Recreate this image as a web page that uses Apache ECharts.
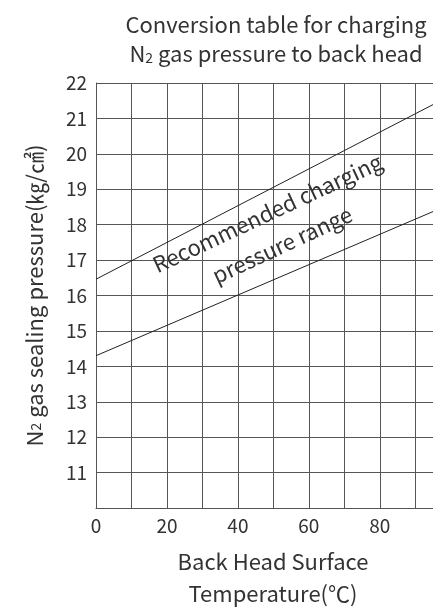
<!DOCTYPE html>
<html><head><meta charset="utf-8">
<script src="https://cdn.jsdelivr.net/npm/echarts@6/dist/echarts.min.js"></script>
<style>html,body{margin:0;padding:0;background:#fff}#c{width:433px;height:608px}</style>
</head><body><div id="c"></div>
<script>
var upperX = [0, 95];
var upperY = [16.46, 21.39];
var lowerX = [0, 95];
var lowerY = [14.3, 18.37];
var xTicks = [0, 20, 40, 60, 80];
var yTicks = [11,12,13,14,15,16,17,18,19,20,21,22];
var FONT = '"Noto Sans CJK KR","Noto Sans",sans-serif';
function pairs(xs, ys){ return xs.map(function(x,i){return [x, ys[i]];}); }
var chart = echarts.init(document.getElementById('c'), null, {renderer:'canvas'});
var lc = '#555';
chart.setOption({
  animation:false,
  textStyle:{fontFamily:FONT},
  title:{
    text:'{a|Conversion table for charging}\n{a|N}{s|2}{a| gas pressure to back head}',
    left:271, top:5, textAlign:'center',
    textStyle:{fontWeight:'normal', rich:{
      a:{fontSize:22, color:'#333', fontFamily:FONT, lineHeight:29, fontWeight:'normal'},
      s:{fontSize:14, color:'#333', fontFamily:FONT, lineHeight:29, fontWeight:'normal', verticalAlign:'bottom', padding:[0,0,3,0]}
    }}
  },
  grid:{left:96, right:0, top:83, bottom:100, containLabel:false, outerBoundsMode:'none'},
  xAxis:{
    type:'value', min:0, max:95, interval:10,
    axisLine:{show:true, lineStyle:{color:lc, width:1}},
    axisTick:{show:false},
    splitLine:{show:true, lineStyle:{color:lc, width:1}},
    axisLabel:{color:'#333', fontSize:19, margin:8, fontFamily:FONT,
      formatter:function(v){return xTicks.indexOf(v)>=0 ? String(v) : '';}},
    name:'Back Head Surface\nTemperature(℃)', nameLocation:'middle', nameGap:38,
    nameTextStyle:{color:'#333', fontSize:22, lineHeight:32, fontFamily:FONT, padding:[0,0,0,17], verticalAlign:'top'}
  },
  yAxis:{
    type:'value', min:10, max:22, interval:1,
    axisLine:{show:true, lineStyle:{color:lc, width:1}},
    axisTick:{show:false},
    splitLine:{show:true, lineStyle:{color:lc, width:1}},
    axisLabel:{color:'#333', fontSize:19, margin:9, fontFamily:FONT,
      formatter:function(v){return yTicks.indexOf(v)>=0 ? String(v) : '';}},
    name:'{a|N}{s|2}{a| gas sealing pressure(㎏/㎠)}', nameLocation:'middle', nameGap:50,
    nameTextStyle:{rich:{
      a:{fontSize:22, color:'#333', fontFamily:FONT},
      s:{fontSize:14, color:'#333', fontFamily:FONT, verticalAlign:'bottom', padding:[0,0,3,0]}
    }}
  },
  series:[
    {type:'line', data:pairs(upperX, upperY), showSymbol:false, lineStyle:{color:'#222', width:1}},
    {type:'line', data:pairs(lowerX, lowerY), showSymbol:false, lineStyle:{color:'#222', width:1}}
  ]
});
var p = chart.convertToPixel({gridIndex:0}, [50.4, 17.88]);
chart.setOption({graphic:[{
  type:'text', x:p[0], y:p[1], rotation:25*Math.PI/180,
  style:{text:'Recommended charging\npressure range', fontSize:22, fill:'#333', fontFamily:FONT,
    align:'center', verticalAlign:'middle', lineHeight:35}
}]});
</script></body></html>
